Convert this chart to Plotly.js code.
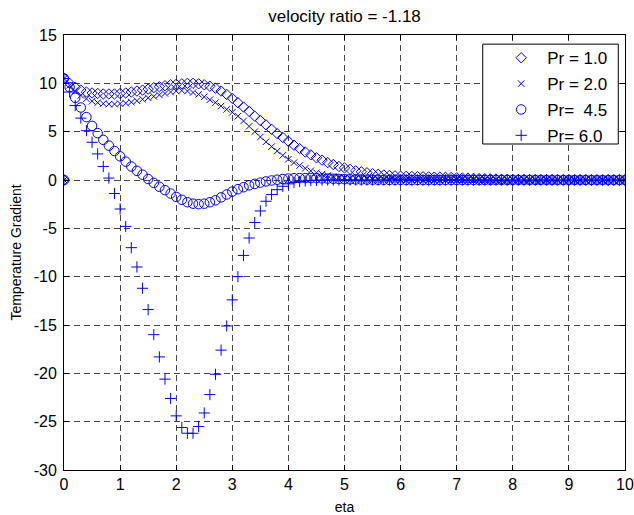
<!DOCTYPE html>
<html>
<head>
<meta charset="utf-8">
<script src="https://cdn.plot.ly/plotly-3.0.1.min.js"></script>
<style>html,body{margin:0;padding:0;background:#fff;}#chart{width:634px;height:515px;}</style>
</head>
<body>
<div id="chart"></div>
<script>
// eta grid: one extra starting point at eta = 0 (value 0), then 0 .. 10 step 0.1
var eta = [0,
  0,0.1,0.2,0.3,0.4,0.5,0.6,0.7,0.8,0.9,
  1,1.1,1.2,1.3,1.4,1.5,1.6,1.7,1.8,1.9,
  2,2.1,2.2,2.3,2.4,2.5,2.6,2.7,2.8,2.9,
  3,3.1,3.2,3.3,3.4,3.5,3.6,3.7,3.8,3.9,
  4,4.1,4.2,4.3,4.4,4.5,4.6,4.7,4.8,4.9,
  5,5.1,5.2,5.3,5.4,5.5,5.6,5.7,5.8,5.9,
  6,6.1,6.2,6.3,6.4,6.5,6.6,6.7,6.8,6.9,
  7,7.1,7.2,7.3,7.4,7.5,7.6,7.7,7.8,7.9,
  8,8.1,8.2,8.3,8.4,8.5,8.6,8.7,8.8,8.9,
  9,9.1,9.2,9.3,9.4,9.5,9.6,9.7,9.8,9.9,
  10];

var pr10 = [0,
  10.5,10.0,9.6,9.3,9.1,9.0,8.95,8.9,8.9,8.9,
  8.95,9.0,9.1,9.2,9.3,9.4,9.55,9.65,9.75,9.85,
  9.9,9.95,10.0,10.0,9.95,9.85,9.7,9.5,9.2,8.85,
  8.45,8.0,7.55,7.1,6.6,6.15,5.7,5.25,4.8,4.4,
  4.0,3.6,3.25,2.9,2.6,2.3,2.05,1.8,1.6,1.4,
  1.25,1.1,0.95,0.85,0.75,0.65,0.58,0.52,0.47,0.43,
  0.4,0.38,0.36,0.34,0.33,0.32,0.3,0.29,0.27,0.25,
  0.23,0.21,0.19,0.17,0.15,0.13,0.11,0.1,0.08,0.07,
  0.06,0.05,0.04,0.04,0.03,0.03,0.02,0.02,0.02,0.01,
  0.01,0.01,0.01,0.01,0,0,0,0,0,0,
  0];

var pr20 = [0,
  10.5,9.8,9.2,8.75,8.4,8.15,8.0,7.9,7.85,7.85,
  7.9,7.95,8.05,8.2,8.35,8.5,8.65,8.8,8.95,9.1,
  9.2,9.25,9.2,9.05,8.85,8.6,8.3,8.0,7.65,7.3,
  7.0,6.6,6.1,5.55,5.0,4.45,3.95,3.45,3.0,2.55,
  2.15,1.8,1.5,1.2,0.95,0.75,0.6,0.47,0.37,0.3,
  0.25,0.2,0.17,0.14,0.12,0.1,0.08,0.07,0.06,0.05,
  0.04,0.03,0.03,0.02,0.02,0.02,0.01,0.01,0.01,0.01,
  0.01,0,0,0,0,0,0,0,0,0,
  0,0,0,0,0,0,0,0,0,0,
  0,0,0,0,0,0,0,0,0,0,
  0];

var pr45 = [0,
  10.5,9.6,8.5,7.5,6.5,5.6,4.85,4.15,3.55,3.0,
  2.45,1.9,1.4,0.95,0.55,0.1,-0.3,-0.7,-1.05,-1.4,
  -1.75,-2.05,-2.3,-2.45,-2.5,-2.45,-2.3,-2.1,-1.8,-1.5,
  -1.2,-0.95,-0.75,-0.55,-0.4,-0.27,-0.15,-0.05,0.03,0.1,
  0.15,0.18,0.2,0.2,0.2,0.19,0.17,0.15,0.13,0.11,
  0.09,0.07,0.06,0.05,0.04,0.03,0.02,0.02,0.01,0.01,
  0.01,0,0,0,0,0,0,0,0,0,
  0,0,0,0,0,0,0,0,0,0,
  0,0,0,0,0,0,0,0,0,0,
  0,0,0,0,0,0,0,0,0,0,
  0];

var pr60 = [0,
  10.5,9.1,7.7,6.4,5.1,3.9,2.7,1.4,0.2,-1.4,
  -3.0,-4.8,-7.0,-9.0,-11.2,-13.4,-16.0,-18.3,-20.6,-22.6,
  -24.4,-25.6,-26.2,-26.2,-25.5,-24.1,-22.2,-20.1,-17.6,-15.1,
  -12.4,-10.0,-7.8,-6.0,-4.4,-3.2,-2.2,-1.5,-1.0,-0.65,
  -0.4,-0.25,-0.15,-0.1,-0.05,-0.03,-0.01,0,0,0,
  0,0,0,0,0,0,0,0,0,0,
  0,0,0,0,0,0,0,0,0,0,
  0,0,0,0,0,0,0,0,0,0,
  0,0,0,0,0,0,0,0,0,0,
  0,0,0,0,0,0,0,0,0,0,
  0];

var seriesNames = ['Pr = 1.0', 'Pr = 2.0', 'Pr=\u00a0 4.5', 'Pr= 6.0'];
var xTicks = [0,1,2,3,4,5,6,7,8,9,10];
var yTicks = [-30,-25,-20,-15,-10,-5,0,5,10,15];

var FONT = 'Liberation Sans, Arial, Helvetica, sans-serif';
var BLUE = '#0000ff';

function tr(y, name, symbol, size, grp) {
  return {
    x: eta, y: y, name: name, type: 'scatter', mode: 'markers', legendgroup: grp,
    marker: {symbol: symbol, size: size, color: BLUE, line: {color: BLUE, width: 1}},
    cliponaxis: true
  };
}

var data = [
  tr(pr10, seriesNames[0], 'diamond-open', 8, 'a'),
  tr(pr20, seriesNames[1], 'x-thin-open', 6.5, 'b'),
  tr(pr45, seriesNames[2], 'circle-open', 9.5, 'c'),
  tr(pr60, seriesNames[3], 'cross-thin-open', 8, 'd')
];

var axisCommon = {
  showline: true, linecolor: '#000', linewidth: 1, mirror: 'ticks',
  ticks: 'inside', ticklen: 5, tickcolor: '#000', tickwidth: 1,
  showgrid: true, gridcolor: '#444', gridwidth: 1, griddash: '6px,4px',
  zeroline: false, tickfont: {family: FONT, size: 16, color: '#000'}
};

var layout = {
  width: 634, height: 515,
  margin: {l: 64, r: 9, t: 35, b: 45, pad: 0},
  paper_bgcolor: '#fff', plot_bgcolor: '#fff',
  font: {family: FONT, color: '#000'},
  showlegend: true,
  title: {text: 'velocity ratio = -1.18', font: {family: FONT, size: 17, color: '#000'},
          x: 0.5, xref: 'paper', xanchor: 'center', y: 1 - 15.6 / 515, yref: 'container', yanchor: 'middle'},
  xaxis: Object.assign({}, axisCommon, {
    range: [0, 10], tickmode: 'array', tickvals: xTicks, ticktext: xTicks.map(String),
    title: {text: 'eta', font: {family: FONT, size: 14, color: '#000'}, standoff: 10}
  }),
  yaxis: Object.assign({}, axisCommon, {
    range: [-30, 15], tickmode: 'array', tickvals: yTicks, ticktext: yTicks.map(String),
    ticklabelstandoff: 3,
    title: {text: 'Temperature Gradient', font: {family: FONT, size: 14, color: '#000'}, standoff: 8}
  }),
  legend: {
    x: 0.7686, xanchor: 'left', y: 0.988, yanchor: 'top',
    bgcolor: 'rgba(0,0,0,0)', borderwidth: 0, itemwidth: 42,
    font: {family: FONT, size: 17, color: '#000'}, tracegroupgap: 0.75
  },
  shapes: [{
    type: 'rect', xref: 'paper', yref: 'paper', layer: 'above',
    x0: 0.7464, x1: 0.988, y0: 0.7494, y1: 0.979,
    line: {color: '#000', width: 1}, fillcolor: '#fff'
  }]
};

Plotly.newPlot('chart', data, layout, {displayModeBar: false, staticPlot: true});
</script>
</body>
</html>
